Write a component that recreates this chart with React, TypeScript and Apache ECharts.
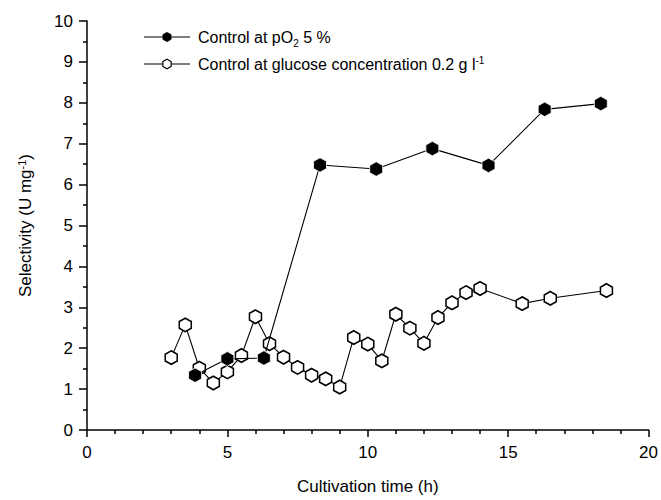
import React, { useEffect, useRef } from "react";
import * as echarts from "echarts";

const pO2Time = [3.85, 5.0, 6.3, 8.3, 10.3, 12.3, 14.3, 16.3, 18.3];
const pO2Sel = [1.34, 1.74, 1.76, 6.48, 6.38, 6.88, 6.47, 7.84, 7.98];

const glcTime = [3, 3.5, 4, 4.5, 5, 5.5, 6, 6.5, 7, 7.5, 8, 8.5, 9, 9.5, 10, 10.5, 11, 11.5, 12, 12.5, 13, 13.5, 14, 15.5, 16.5, 18.5];
const glcSel = [1.77, 2.57, 1.51, 1.15, 1.42, 1.82, 2.77, 2.11, 1.78, 1.53, 1.34, 1.25, 1.05, 2.26, 2.1, 1.69, 2.83, 2.49, 2.12, 2.75, 3.11, 3.36, 3.46, 3.09, 3.22, 3.41];

const seriesNames = ["Control at pO2 5 %", "Control at glucose concentration 0.2 g l-1"];
const legendLabels = [
  "{n|Control at pO}{sub|2}{n| 5 %}",
  "{n|Control at glucose concentration 0.2 g l}{sup|-1}",
];

const HEX = "path://M0,-1 L0.866,-0.5 L0.866,0.5 L0,1 L-0.866,0.5 L-0.866,-0.5 Z";
const FONT = "Liberation Sans, Arial, sans-serif";

function hexPoints(cx: number, cy: number, r: number) {
  const pts: number[][] = [];
  for (let i = 0; i < 6; i++) {
    const a = -Math.PI / 2 + (i * Math.PI) / 3;
    pts.push([cx + r * Math.cos(a), cy + r * Math.sin(a)]);
  }
  return pts;
}

function legendRow(y: number, filled: boolean, label: string) {
  return [
    { type: "line", shape: { x1: 144, y1: y, x2: 190, y2: y }, style: { stroke: "#000", lineWidth: 1.2 } },
    {
      type: "polygon",
      shape: { points: hexPoints(167, y, 4.8) },
      style: { fill: filled ? "#000" : "#fff", stroke: "#000", lineWidth: filled ? 0.5 : 1.2 },
    },
    {
      type: "text",
      x: 198,
      y: y,
      style: {
        text: label,
        fill: "#000",
        font: `16px ${FONT}`,
        verticalAlign: "middle",
        rich: {
          n: { fontSize: 16, fontFamily: FONT, fill: "#000" },
          sub: { fontSize: 10, fontFamily: FONT, fill: "#000", verticalAlign: "bottom", padding: [12, 0, 0, 0] },
          sup: { fontSize: 10, fontFamily: FONT, fill: "#000", verticalAlign: "top", padding: [0, 0, 8, 0] },
        },
      },
    },
  ];
}

export default function App() {
  const ref = useRef<HTMLDivElement>(null);
  useEffect(() => {
    const chart = echarts.init(ref.current!, null, { renderer: "svg" });
    const pair = (xs: number[], ys: number[]) => xs.map((x, i) => [x, ys[i]]);
    chart.setOption({
      animation: false,
      backgroundColor: "#fff",
      textStyle: { fontFamily: FONT },
      grid: { left: 87, right: 11, top: 21, bottom: 68 },
      graphic: [...legendRow(37, true, legendLabels[0]), ...legendRow(64, false, legendLabels[1])],
      xAxis: {
        type: "value",
        min: 0,
        max: 20,
        interval: 5,
        name: "Cultivation time (h)",
        nameLocation: "middle",
        nameGap: 48,
        nameTextStyle: { fontSize: 17, color: "#000", fontFamily: FONT },
        axisLine: { onZero: false, lineStyle: { color: "#000", width: 1.5 } },
        axisTick: { inside: false, length: 7, lineStyle: { color: "#000", width: 1.5 } },
        minorTick: { show: true, splitNumber: 5, length: 4, lineStyle: { color: "#000", width: 1.5 } },
        axisLabel: { fontSize: 17, color: "#000", margin: 14, fontFamily: FONT },
        splitLine: { show: false },
      },
      yAxis: {
        type: "value",
        min: 0,
        max: 10,
        interval: 1,
        name: "{n|Selectivity (U mg}{sup|-1}{n|)}",
        nameLocation: "middle",
        nameGap: 52,
        nameTextStyle: {
          fontSize: 17,
          color: "#000",
          fontFamily: FONT,
          rich: {
            n: { fontSize: 17, fontFamily: FONT, color: "#000" },
            sup: { fontSize: 11, fontFamily: FONT, color: "#000", verticalAlign: "top", padding: [0, 0, 8, 0] },
          },
        },
        axisLine: { onZero: false, lineStyle: { color: "#000", width: 1.5 } },
        axisTick: { inside: false, length: 8, lineStyle: { color: "#000", width: 1.5 } },
        minorTick: { show: true, splitNumber: 2, length: 4, lineStyle: { color: "#000", width: 1.5 } },
        axisLabel: { fontSize: 17, color: "#000", margin: 14, fontFamily: FONT },
        splitLine: { show: false },
      },
      series: [
        {
          name: seriesNames[1],
          type: "line",
          data: pair(glcTime, glcSel),
          symbol: HEX,
          symbolSize: [12, 13.5],
          showAllSymbol: true,
          lineStyle: { color: "#000", width: 1.1 },
          itemStyle: { color: "#fff", borderColor: "#000", borderWidth: 1.6 },
          z: 2,
        },
        {
          name: seriesNames[0],
          type: "line",
          data: pair(pO2Time, pO2Sel),
          symbol: HEX,
          symbolSize: [13, 14.5],
          showAllSymbol: true,
          lineStyle: { color: "#000", width: 1.1 },
          itemStyle: { color: "#000", borderColor: "#fff", borderWidth: 0.8 },
          z: 3,
        },
      ],
    });
    return () => chart.dispose();
  }, []);
  return <div ref={ref} style={{ width: 661, height: 500, position: "absolute", left: 0, top: 0 }} />;
}
